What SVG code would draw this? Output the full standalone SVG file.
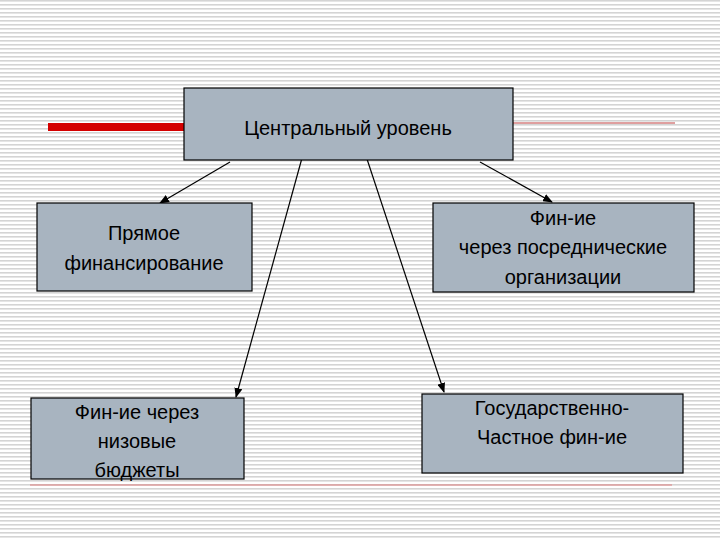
<svg xmlns="http://www.w3.org/2000/svg" width="720" height="540" viewBox="0 0 720 540">
<defs>
<pattern id="bg" width="8" height="4" patternUnits="userSpaceOnUse"><rect width="8" height="4" fill="#ffffff"/><rect y="0" width="8" height="1.6" fill="#d4d4d4"/></pattern>
<marker id="ah" markerWidth="10" markerHeight="8" refX="9" refY="4" orient="auto" markerUnits="userSpaceOnUse"><path d="M0,0 L10,4 L0,8 Z" fill="#000"/></marker>
</defs>
<style>
.box{fill:#a8b4c0;stroke:#000;stroke-width:1.2}
.t{font-family:"Liberation Sans",Arial,sans-serif;font-size:20px;fill:#000;text-anchor:middle}
.c{stroke:#000;stroke-width:1.2;fill:none;marker-end:url(#ah)}
</style>
<rect width="720" height="540" fill="url(#bg)"/>
<rect x="48" y="123" width="137" height="8" fill="#d40000"/>
<line x1="513" y1="123" x2="675" y2="123" stroke="#c04040" stroke-width="1"/>
<line x1="30" y1="485" x2="672" y2="485" stroke="#e08080" stroke-width="1"/>
<g id="connectors">
<line class="c" x1="230" y1="162" x2="160" y2="203"/>
<line class="c" x1="302" y1="158" x2="236" y2="397"/>
<line class="c" x1="366" y1="156" x2="444" y2="392"/>
<line class="c" x1="480" y1="162" x2="552" y2="202"/>
</g>
<g id="central"><rect class="box" x="184" y="88" width="329" height="72"/><text class="t" x="348" y="135">Центральный уровень</text></g>
<g id="direct"><rect class="box" x="37" y="203" width="215" height="88"/><text class="t" x="144" y="240">Прямое</text><text class="t" x="144" y="270">финансирование</text></g>
<g id="intermediary"><rect class="box" x="433" y="203" width="261" height="89"/><text class="t" x="563" y="225">Фин-ие</text><text class="t" x="563" y="254">через посреднические</text><text class="t" x="563" y="284">организации</text></g>
<g id="budgets"><rect class="box" x="31" y="398" width="213" height="81"/><text class="t" x="137" y="419">Фин-ие через</text><text class="t" x="137" y="448">низовые</text><text class="t" x="137" y="477">бюджеты</text></g>
<g id="ppp"><rect class="box" x="422" y="394" width="261" height="79"/><text class="t" x="552" y="415">Государственно-</text><text class="t" x="552" y="444">Частное фин-ие</text></g>
</svg>
